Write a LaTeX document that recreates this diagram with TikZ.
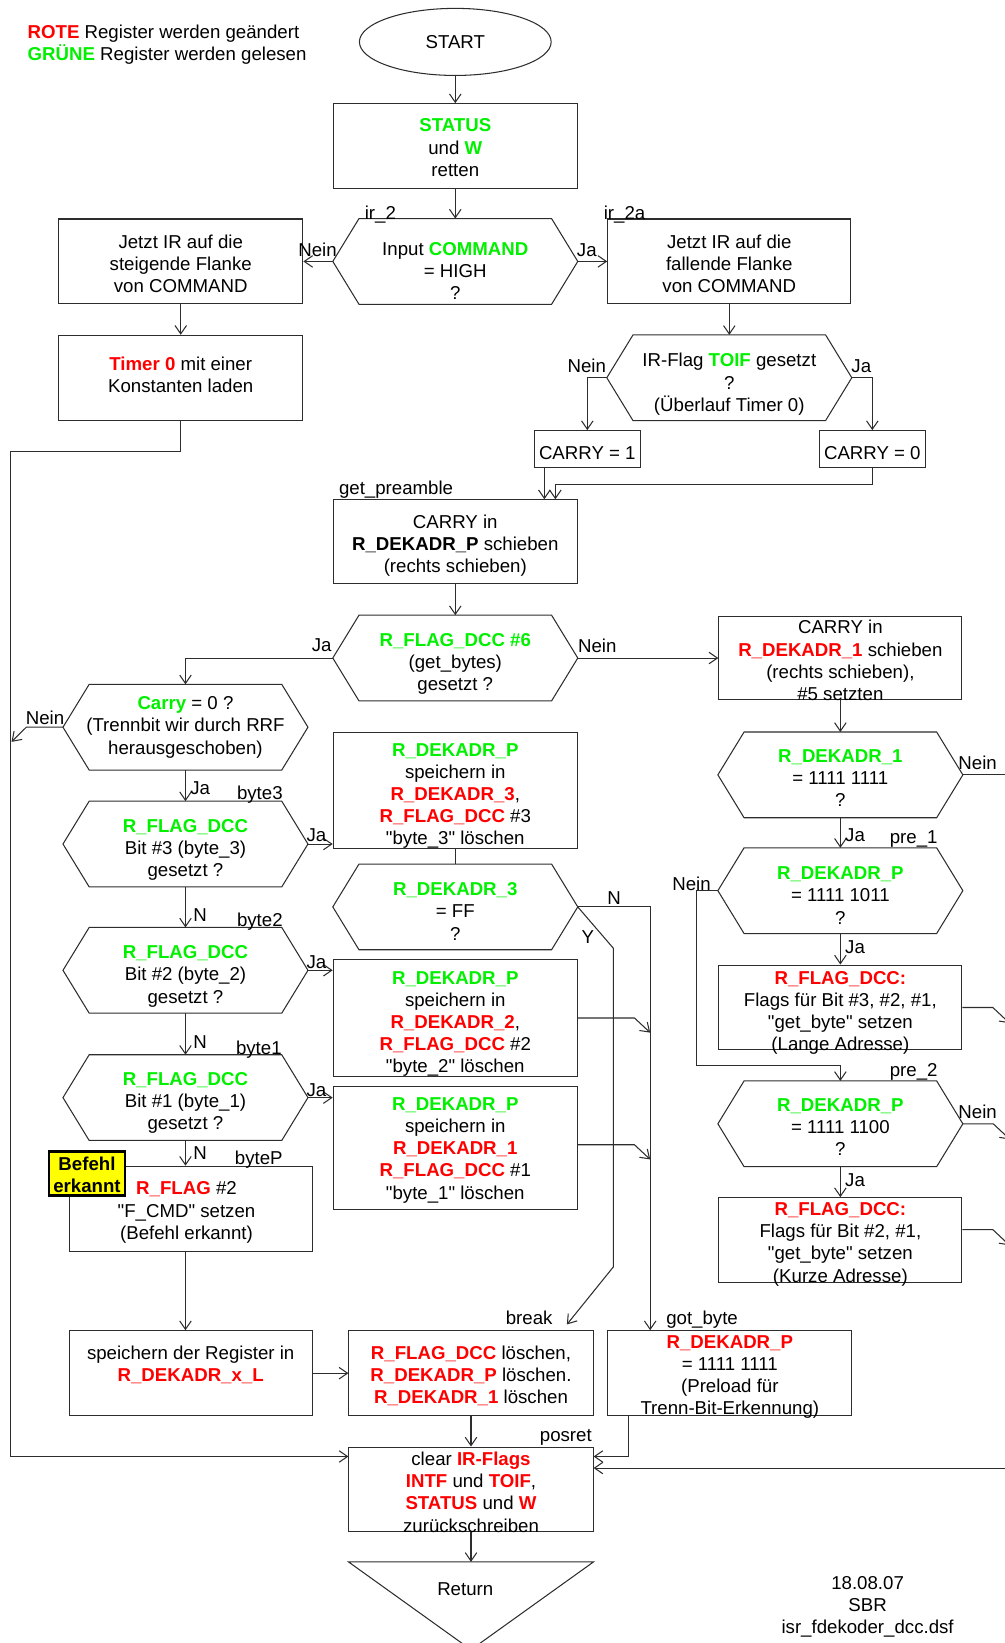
\documentclass[tikz,border=0pt]{standalone}
\usepackage{fontspec}
\setmainfont{Liberation Sans}[Ligatures=TeXOff]
\usetikzlibrary{arrows.meta,shapes.geometric,calc}
\definecolor{rd}{RGB}{255,0,0}
\definecolor{gn}{RGB}{0,240,0}
\definecolor{ln}{RGB}{45,45,45}
\definecolor{notefill}{RGB}{255,255,0}
\newcommand\Rd[1]{\textcolor{rd}{\textbf{#1}}}
\newcommand\Gn[1]{\textcolor{gn}{\textbf{#1}}}
\newcommand\fsz{\fontsize{8.9pt}{10.6pt}\selectfont}
% hexagonal decision frame: name, x, y
\newcommand\hexat[3]{%
  \node[hexin] (#1) at (#2,#3) {};
  \draw[hexline] (#1.west) -- ([xshift=12.5pt]#1.north west) -- ([xshift=-12.5pt]#1.north east)
    -- (#1.east) -- ([xshift=-12.5pt]#1.south east) -- ([xshift=12.5pt]#1.south west) -- cycle;
}
\begin{document}
\begin{tikzpicture}[
  x=0.5pt, y=-0.5pt,
  rbox/.style={draw=ln, line width=0.5pt, rectangle, inner sep=0pt, minimum width=116.5pt, minimum height=40.5pt},
  smallbox/.style={rbox, minimum width=50.5pt, minimum height=17.5pt},
  hexin/.style={rectangle, inner sep=0pt, minimum width=116.5pt, minimum height=40.5pt},
  hexline/.style={draw=ln, line width=0.5pt},
  txt/.style={align=center, inner sep=0pt, font=\fsz, execute at begin node=\strut, execute at end node=\strut},
  lbl/.style={inner sep=0pt, font=\fsz, execute at begin node=\strut},
  con/.style={draw=ln, line width=0.5pt},
  arr/.style={con, -{Straight Barb[length=4pt,width=5.5pt]}},
  note/.style={draw=black, line width=1.1pt, fill=notefill, inner sep=0pt, minimum width=36pt, minimum height=21pt},
]
\useasboundingbox (0,0) rectangle (959,1568);
\clip (0,0) rectangle (959,1568);

% ---------- frames ----------
\node[draw=ln, line width=0.5pt, ellipse, inner sep=0pt, minimum width=91.5pt, minimum height=32pt] (start) at (434.5,40) {};
\node[rbox] (status) at (434.5,139.5) {};
\hexat{d1}{434.5}{249.5}
\node[rbox] (bl1) at (172.5,249.5) {};
\node[rbox, minimum width=116pt] (br1) at (696,249.5) {};
\node[rbox] (timer) at (172.5,360.5) {};
\hexat{d2}{696}{360.5}
\node[smallbox] (c1) at (560.5,428.5) {};
\node[smallbox] (c0) at (832.5,428.5) {};
\node[rbox, minimum height=40pt] (gp) at (434.5,517) {};
\hexat{d3}{434.5}{628}
\node[rbox, minimum width=116pt, minimum height=40pt] (cr1) at (802,628) {};
\hexat{d4}{177}{694}
\hexat{d9}{802}{739.5}
\node[rbox, minimum height=55.5pt] (b3) at (434.5,754.5) {};
\hexat{d5}{177}{805.5}
\hexat{d10}{802}{850}
\hexat{d6}{434.5}{865.5}
\hexat{d7}{177}{926}
\node[rbox, minimum height=55.5pt] (b2) at (434.5,971.5) {};
\node[rbox, minimum width=116pt] (la) at (802,961.5) {};
\hexat{d8}{177}{1047.5}
\node[rbox, minimum height=58.5pt] (b1) at (434.5,1095.5) {};
\hexat{d11}{802}{1072.5}
\node[rbox, minimum width=116pt] (bp) at (182,1153.5) {};
\node[note] (bef) at (83,1120) {};
\node[rbox, minimum width=116pt] (ka) at (802,1183.5) {};
\node[rbox, minimum width=116pt] (sr) at (182,1310.5) {};
\node[rbox] (brk) at (449.5,1310.5) {};
\node[rbox] (gb) at (696.5,1310.5) {};
\node[rbox] (clear) at (449.5,1421.5) {};
\node[hexin, minimum height=41.5pt] (ret) at (449.5,1532.5) {};
\draw[hexline] (ret.north west) -- (ret.north east) -- (ret.south) -- cycle;

% ---------- connectors ----------
\coordinate (k1) at (10,431);
\coordinate (k2) at (10,1390);
\coordinate (k3) at (11,708);
\coordinate (j1) at (530,462);
\coordinate (brkin) at (541,1264);
\coordinate (k4) at (975,1401);
\coordinate (c1o) at ([xshift=5pt]c1.south west);

\draw[arr] (start.south) -- (status.north);
\draw[arr] (status.south) -- (d1.north);
\draw[arr] (d1.west) -- (bl1.east);
\draw[arr] (d1.east) -- (br1.west);
\draw[arr] (bl1.south) -- (timer.north);
\draw[arr] (timer.south) |- (k1) -- (k2) -- (k2 -| clear.west);
\draw[arr] (br1.south) -- (d2.north);
\draw[arr] (d2.west) -| (c1.north);
\draw[arr] (d2.east) -| (c0.north);
\draw[arr] (c1o) -- (c1o |- gp.north);
\draw[arr] (c0.south) |- (j1) -- (j1 |- gp.north);
\draw[arr] (gp.south) -- (d3.north);
\draw[arr] (d3.west) -| (d4.north);
\draw[arr] (d3.east) -- (cr1.west);
\draw[arr] (d4.west) -- ++(-35,0) -- (k3);
\draw[arr] (d4.south) -- (d5.north);
\draw[arr] (d5.east) -- (d5.east -| b3.west);
\draw[con] (b3.south) -- (d6.north);
\draw[arr] (d6.east) -| ([xshift=20.5pt]gb.north west);
\draw[arr] (d6.east) -- ++(34,39.5) -- ++(0,304) -- (brkin);
\draw[arr] (d5.south) -- (d7.north);
\draw[arr] (d7.east) -- (d7.east -| b2.west);
\draw[arr] (b2.east) -- ++(54,0) -- ++(15,14);
\draw[arr] (d7.south) -- (d8.north);
\draw[arr] (d8.east) -- (d8.east -| b1.west);
\draw[arr] ([yshift=1.5pt]b1.east) -- ++(54,0) -- ++(15,14);
\draw[arr] (d8.south) -- (d8.south |- bp.north);
\draw[arr] ([xshift=-2.5pt]bp.south) -- ([xshift=-2.5pt]sr.north);
\draw[arr] (sr.east) -- (brk.west);
\draw[arr] (brk.south) -- (clear.north);
\draw[arr] ([xshift=10pt]gb.south west) |- (k2 -| clear.east);
\draw[arr] (k4) -- (k4 -| clear.east);
\draw[arr] (clear.south) -- (ret.north);
\draw[arr] (cr1.south) -- (d9.north);
\draw[con] (d9.east) -- ++(60,0);
\draw[arr] (d9.south) -- (d10.north);
\draw[arr] (d10.west) -- ++(-20,0) |- ([yshift=7.5pt]d11.north) -- (d11.north);
\draw[arr] (d10.south) -- (la.north);
\draw[arr] (la.east) -- ++(29,0) -- ++(16,15);
\draw[arr] (d11.east) -- ++(29,0) -- ++(16,15);
\draw[arr] (d11.south) -- (ka.north);
\draw[arr] ([yshift=5pt]ka.east) -- ++(29,0) -- ++(16,15);

% ---------- texts ----------
\node[txt, anchor=west, align=left] (legend) at (26,43.6) {\Rd{ROTE} Register werden geändert\\\Gn{GRÜNE} Register werden gelesen};
\node[txt] (start-t) at (434.5,42.5) {START};
\node[txt] (status-t) at (434.5,144) {\Gn{STATUS}\\und \Gn{W}\\retten};
\node[txt] (d1-t) at (434.5,262) {Input \Gn{COMMAND}\\= HIGH\\?};
\node[txt] (bl1-t) at (172.5,254.7) {Jetzt IR auf die\\steigende Flanke\\von COMMAND};
\node[txt] (br1-t) at (696,255) {Jetzt IR auf die\\fallende Flanke\\von COMMAND};
\node[txt] (timer-t) at (172.5,360.6) {\Rd{Timer 0} mit einer\\Konstanten laden};
\node[txt] (d2-t) at (696,368) {IR-Flag \Gn{TOIF} gesetzt\\?\\(Überlauf Timer 0)};
\node[txt] (c1-t) at (560.5,434.5) {CARRY = 1};
\node[txt] (c0-t) at (832.5,434.5) {CARRY = 0};
\node[txt] (gp-t) at (434.5,522) {CARRY in\\\textbf{R\_DEKADR\_P} schieben\\(rechts schieben)};
\node[txt] (d3-t) at (434.5,635) {\Gn{R\_FLAG\_DCC \#6}\\(get\_bytes)\\gesetzt ?};
\node[txt] (cr1-t) at (802,633.4) {CARRY in\\\Rd{R\_DEKADR\_1} schieben\\(rechts schieben),\\\#5 setzten};
\node[txt] (d4-t) at (177,695.5) {\Gn{Carry} = 0 ?\\(Trennbit wir durch RRF\\herausgeschoben)};
\node[txt] (d9-t) at (802,746) {\Gn{R\_DEKADR\_1}\\= 1111 1111\\?};
\node[txt] (b3-t) at (434.5,761) {\Gn{R\_DEKADR\_P}\\speichern in\\\Rd{R\_DEKADR\_3},\\\Rd{R\_FLAG\_DCC} \#3\\"byte\_3" löschen};
\node[txt] (d5-t) at (177,812.4) {\Gn{R\_FLAG\_DCC}\\Bit \#3 (byte\_3)\\gesetzt ?};
\node[txt] (d10-t) at (802,857.7) {\Gn{R\_DEKADR\_P}\\= 1111 1011\\?};
\node[txt] (d6-t) at (434.5,873) {\Gn{R\_DEKADR\_3}\\= FF\\?};
\node[txt] (d7-t) at (177,933) {\Gn{R\_FLAG\_DCC}\\Bit \#2 (byte\_2)\\gesetzt ?};
\node[txt] (b2-t) at (434.5,978.6) {\Gn{R\_DEKADR\_P}\\speichern in\\\Rd{R\_DEKADR\_2},\\\Rd{R\_FLAG\_DCC} \#2\\"byte\_2" löschen};
\node[txt] (la-t) at (802,968) {\Rd{R\_FLAG\_DCC:}\\Flags für Bit \#3, \#2, \#1,\\"get\_byte" setzen\\(Lange Adresse)};
\node[txt] (d8-t) at (177,1054) {\Gn{R\_FLAG\_DCC}\\Bit \#1 (byte\_1)\\gesetzt ?};
\node[txt] (b1-t) at (434.5,1099) {\Gn{R\_DEKADR\_P}\\speichern in\\\Rd{R\_DEKADR\_1}\\\Rd{R\_FLAG\_DCC} \#1\\"byte\_1" löschen};
\node[txt] (d11-t) at (802,1079) {\Gn{R\_DEKADR\_P}\\= 1111 1100\\?};
\node[txt] (bp-t) at (178,1158.4) {\Rd{R\_FLAG} \#2\\"F\_CMD" setzen\\(Befehl erkannt)};
\node[txt] (bef-t) at (83,1124.3) {\textbf{Befehl}\\\textbf{erkannt}};
\node[txt] (ka-t) at (802,1188.8) {\Rd{R\_FLAG\_DCC:}\\Flags für Bit \#2, \#1,\\"get\_byte" setzen\\(Kurze Adresse)};
\node[txt] (sr-t) at (182,1305) {speichern der Register in\\\Rd{R\_DEKADR\_x\_L}};
\node[txt] (brk-t) at (449.5,1315) {\Rd{R\_FLAG\_DCC} löschen,\\\Rd{R\_DEKADR\_P} löschen.\\\Rd{R\_DEKADR\_1} löschen};
\node[txt] (gb-t) at (696.5,1315.4) {\Rd{R\_DEKADR\_P}\\= 1111 1111\\(Preload für\\Trenn-Bit-Erkennung)};
\node[txt] (clear-t) at (449.5,1427) {clear \Rd{IR-Flags}\\\Rd{INTF} und \Rd{TOIF},\\\Rd{STATUS} und \Rd{W}\\zurückschreiben};
\node[txt] (ret-t) at (444,1518) {Return};
\node[txt] (foot) at (828,1535) {18.08.07\\SBR\\isr\_fdekoder\_dcc.dsf};

% ---------- connector labels ----------
\node[lbl] (l-ir2) at (363,205) {ir\_2};
\node[lbl] (l-ir2a) at (596,205) {ir\_2a};
\node[lbl] (l-n1) at (303,241) {Nein};
\node[lbl] (l-j1) at (560,241) {Ja};
\node[lbl] (l-n2) at (560,351) {Nein};
\node[lbl] (l-j2) at (822,351) {Ja};
\node[lbl] (l-gp) at (378,468) {get\_preamble};
\node[lbl] (l-j3) at (307,617.5) {Ja};
\node[lbl] (l-n3) at (570,618) {Nein};
\node[lbl] (l-n4) at (43,687) {Nein};
\node[lbl] (l-j4) at (191,754) {Ja};
\node[lbl] (l-b3) at (248,759) {byte3};
\node[lbl] (l-j5) at (302,799) {Ja};
\node[lbl] (l-nd6) at (586,859) {N};
\node[lbl] (l-yd6) at (561,896) {Y};
\node[lbl] (l-n5) at (191,875) {N};
\node[lbl] (l-b2) at (248,880) {byte2};
\node[lbl] (l-j7) at (302,920) {Ja};
\node[lbl] (l-n7) at (191,996) {N};
\node[lbl] (l-b1) at (247,1002) {byte1};
\node[lbl] (l-j8) at (302,1042) {Ja};
\node[lbl] (l-n8) at (191,1102) {N};
\node[lbl] (l-bp) at (247,1107) {byteP};
\node[lbl] (l-brk) at (505,1260) {break};
\node[lbl] (l-gb) at (670,1260) {got\_byte};
\node[lbl] (l-pr) at (540,1371) {posret};
\node[lbl] (l-n9) at (933,730) {Nein};
\node[lbl] (l-j9) at (816,799) {Ja};
\node[lbl] (l-p1) at (872,801) {pre\_1};
\node[lbl] (l-n10) at (660,846) {Nein};
\node[lbl] (l-j10) at (816,906) {Ja};
\node[lbl] (l-p2) at (872,1023) {pre\_2};
\node[lbl] (l-n11) at (933,1063) {Nein};
\node[lbl] (l-j11) at (816,1128) {Ja};
\end{tikzpicture}
\end{document}
